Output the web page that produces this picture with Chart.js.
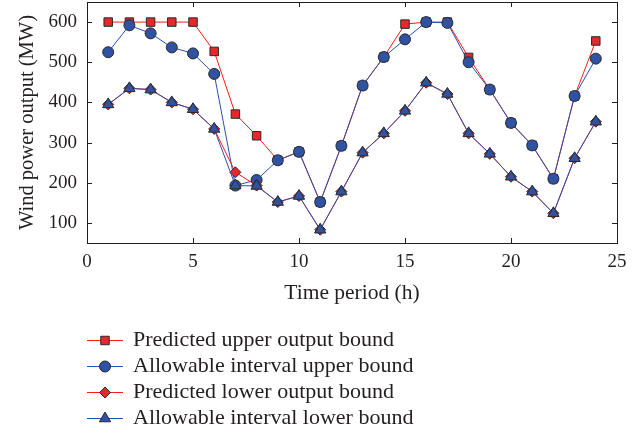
<!DOCTYPE html>
<html>
<head>
<meta charset="utf-8">
<script src="https://cdn.jsdelivr.net/npm/chart.js@4.4.1/dist/chart.umd.min.js"></script>
<style>
  html, body { margin: 0; padding: 0; background: #fff; }
</style>
</head>
<body>
<canvas id="windChart" width="644" height="434"></canvas>
<script>
// hours 1..24
const hours = [1, 2, 3, 4, 5, 6, 7, 8, 9, 10, 11, 12, 13, 14, 15, 16, 17, 18, 19, 20, 21, 22, 23, 24];

const predUpper = [600, 600, 600, 600, 600, 527, 371, 317, 256, 277, 152, 292, 442, 513, 595, 600, 600, 512, 432, 349, 293, 210, 416, 553];
const allowUpper = [525, 592, 572, 537, 522, 471, 193, 207, 256, 277, 152, 292, 442, 513, 557, 600, 598, 500, 432, 349, 293, 210, 416, 509];
const predLower = [395, 435, 432, 400, 383, 334, 226, 193, 152, 167, 83, 178, 275, 323, 379, 449, 421, 323, 272, 215, 178, 124, 261, 352];
const allowLower = [395, 435, 432, 400, 383, 334, 193, 192, 152, 167, 83, 178, 275, 323, 379, 449, 421, 323, 272, 215, 178, 124, 261, 352];

const seriesNames = [
  'Predicted upper output bound',
  'Allowable interval upper bound',
  'Predicted lower output bound',
  'Allowable interval lower bound'
];

const xTicks = [0, 5, 10, 15, 20, 25];
const yTicks = [100, 200, 300, 400, 500, 600];

const RED = '#e8262b';
const BLUE = '#2f52a2';
const FONT = '"Liberation Serif", "Times New Roman", serif';
const INK = '#231f20';

const toPoints = (vals) => vals.map((v, i) => ({ x: hours[i], y: v }));

function makeSet(label, vals, line, fill, style, radius, order) {
  return {
    label: label,
    data: toPoints(vals),
    borderColor: line,
    borderWidth: 1,
    pointBackgroundColor: fill,
    pointBorderColor: '#2a2a2a',
    pointBorderWidth: 1,
    pointStyle: style,
    pointRadius: radius,
    pointHoverRadius: radius,
    order: order
  };
}

// inward ticks on all four sides + box frame
const frameTicks = {
  id: 'frameTicks',
  afterDatasetsDraw(chart) {
    const { ctx, chartArea: a, scales } = chart;
    ctx.save();
    ctx.strokeStyle = INK;
    ctx.lineWidth = 1;
    ctx.beginPath();
    xTicks.forEach(t => {
      const px = Math.round(scales.x.getPixelForValue(t)) + 0.5;
      ctx.moveTo(px, a.bottom); ctx.lineTo(px, a.bottom - 5);
      ctx.moveTo(px, a.top); ctx.lineTo(px, a.top + 5);
    });
    yTicks.forEach(t => {
      const py = Math.round(scales.y.getPixelForValue(t)) + 0.5;
      ctx.moveTo(a.left, py); ctx.lineTo(a.left + 5, py);
      ctx.moveTo(a.right, py); ctx.lineTo(a.right - 5, py);
    });
    ctx.stroke();
    ctx.strokeRect(Math.round(a.left) + 0.5, Math.round(a.top) + 0.5,
      Math.round(a.right - a.left), Math.round(a.bottom - a.top));
    ctx.restore();
  }
};

// legend stacked below the axis, line + marker + label
const stackedLegend = {
  id: 'stackedLegend',
  afterDraw(chart) {
    const ctx = chart.ctx;
    chart.data.datasets.forEach((ds, i) => {
      const y = 340 + i * 26;
      ctx.save();
      ctx.strokeStyle = ds.borderColor;
      ctx.lineWidth = 1;
      ctx.beginPath();
      ctx.moveTo(87, y + 0.5);
      ctx.lineTo(123, y + 0.5);
      ctx.stroke();
      ctx.fillStyle = ds.pointBackgroundColor;
      ctx.strokeStyle = ds.pointBorderColor;
      Chart.helpers.drawPoint(ctx, {
        pointStyle: ds.pointStyle, radius: ds.pointRadius, borderWidth: 1, rotation: 0
      }, 105, y + 0.5);
      ctx.fillStyle = INK;
      ctx.font = '22px ' + FONT;
      ctx.textBaseline = 'middle';
      ctx.textAlign = 'left';
      ctx.fillText(ds.label, 133, y);
      ctx.restore();
    });
  }
};

new Chart(document.getElementById('windChart'), {
  type: 'line',
  data: {
    datasets: [
      makeSet(seriesNames[0], predUpper, '#ff1a1a', RED, 'rect', 6, 4),
      makeSet(seriesNames[1], allowUpper, '#2a4fb0', BLUE, 'circle', 5.5, 3),
      makeSet(seriesNames[2], predLower, '#ff1a1a', RED, 'rectRot', 5.5, 2),
      makeSet(seriesNames[3], allowLower, '#2a4fb0', BLUE, 'triangle', 6.5, 1)
    ]
  },
  options: {
    responsive: false,
    devicePixelRatio: 1,
    animation: false,
    layout: { autoPadding: false, padding: { left: 0, right: 27, top: 2, bottom: 127 } },
    plugins: { legend: { display: false }, tooltip: { enabled: false } },
    scales: {
      x: {
        type: 'linear',
        min: 0,
        max: 25,
        afterBuildTicks: (s) => { s.ticks = xTicks.map(v => ({ value: v })); },
        afterFit: (s) => { s.height = 64; },
        grid: { display: false, drawTicks: false },
        border: { display: false },
        ticks: { color: INK, padding: 8, font: { family: FONT, size: 19 } },
        title: {
          display: true,
          text: 'Time period (h)',
          color: INK,
          font: { family: FONT, size: 21.5 },
          padding: { top: 6, bottom: 1 }
        }
      },
      y: {
        min: 50,
        max: 650,
        afterBuildTicks: (s) => { s.ticks = yTicks.map(v => ({ value: v })); },
        afterFit: (s) => { s.width = 87; s.paddingTop = 0; s.paddingBottom = 0; },
        grid: { display: false, drawTicks: false },
        border: { display: false },
        ticks: { color: INK, padding: 10, font: { family: FONT, size: 19 } },
        title: {
          display: true,
          text: 'Wind power output (MW)',
          color: INK,
          font: { family: FONT, size: 20.5 },
          padding: { top: 15, bottom: 0 }
        }
      }
    }
  },
  plugins: [frameTicks, stackedLegend]
});
</script>
</body>
</html>
